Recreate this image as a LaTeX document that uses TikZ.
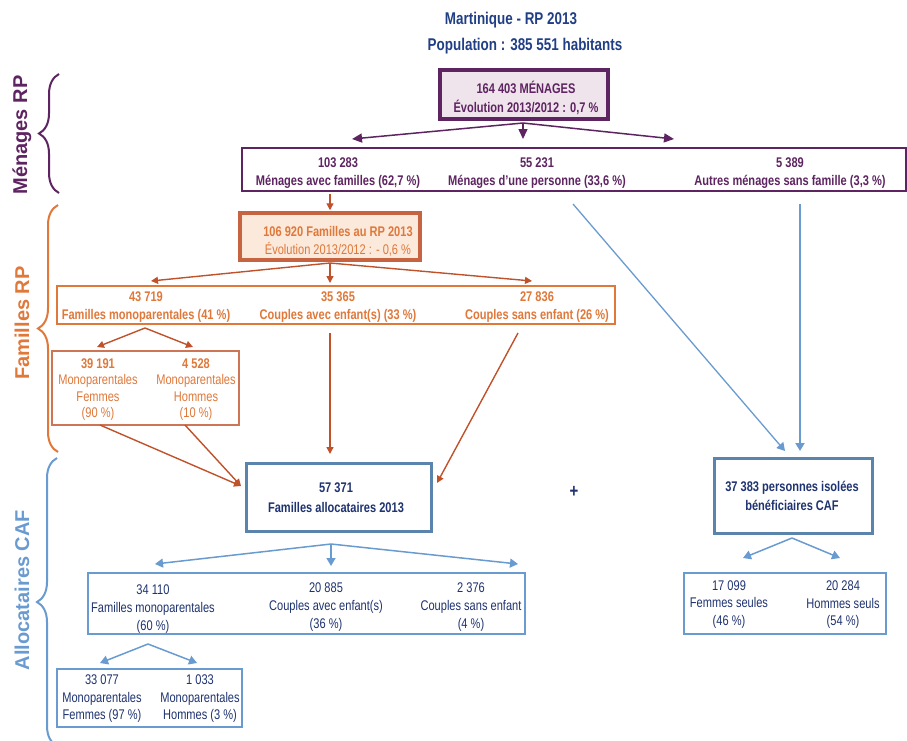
\documentclass[tikz,border=0pt]{standalone}
\usepackage{fontspec}
\setmainfont{Liberation Sans}[FakeStretch=0.79]
\newfontfamily\sidefont{Liberation Sans}
\usetikzlibrary{positioning,calc,arrows.meta,decorations.pathreplacing}

\definecolor{menpurple}{HTML}{5E2461}
\definecolor{menfill}{HTML}{EFE4EC}
\definecolor{famorange}{HTML}{E0783A}
\definecolor{famdark}{HTML}{C0522B}
\definecolor{famfill}{HTML}{FBE9DB}
\definecolor{cafblue}{HTML}{6A9BD0}
\definecolor{cafframe}{HTML}{5B84AD}
\definecolor{cafnavy}{HTML}{1F3370}
\definecolor{titleblue}{HTML}{213F85}

\begin{document}
\begin{tikzpicture}[x=1pt,y=-1pt]
    \tikzstyle{every node}=[inner sep=0,align=center,font=\fontsize{14}{18}\selectfont]
    \tikzstyle{ttl}=[text=titleblue,font=\bfseries\fontsize{17}{18}\selectfont]
    \tikzstyle{sidelab}=[rotate=90,font=\sidefont\bfseries\fontsize{20}{20}\selectfont]
    \tikzstyle{bigbox}=[draw,line width=3.5]
    \tikzstyle{rowbox}=[draw,line width=1.6,fill=white]
    \tikzstyle{mentxt}=[text=menpurple,font=\bfseries\fontsize{14}{18}\selectfont]
    \tikzstyle{famtxt}=[text=famorange,font=\bfseries\fontsize{14}{18}\selectfont]
    \tikzstyle{caftxt}=[text=cafnavy]
    \tikzstyle{purarr}=[menpurple,line width=1.5,-{Triangle[length=10,width=9]}]
    \tikzstyle{famarr}=[famdark,line width=1.4,-{Triangle[length=7,width=7]}]
    \tikzstyle{cafarr}=[cafblue,line width=1.5,-{Triangle[length=8,width=9]}]
    \tikzstyle{brc}=[line width=2,decorate,decoration={brace,amplitude=20}]
    \useasboundingbox (0,0) rectangle (907,740);

    % titre
    \node[ttl] (title1) at (511,20) {Martinique - RP 2013};
    \node[ttl] (title2) at (525,46) {Population : 385 551 habitants};

    % menages RP
    \node[bigbox,draw=menpurple,fill=menfill,minimum width=168,minimum height=49] (men) at (524,94.5) {};
    \node[mentxt,font=\bfseries\fontsize{14}{19}\selectfont] (men-t) at (526,98) {164 403 MÉNAGES\\Évolution 2013/2012 : 0,7 \%};
    \node[rowbox,draw=menpurple,minimum width=664,minimum height=43] (menrow) at (574,169.5) {};
    \node[mentxt] (menA) at (338,173) {103 283\\Ménages avec familles (62,7 \%)};
    \node[mentxt] (menB) at (537,173) {55 231\\Ménages d'une personne (33,6 \%)};
    \node[mentxt] (menC) at (790,173) {5 389\\Autres ménages sans famille (3,3 \%)};

    \coordinate (menSplit) at (523,123);
    \coordinate (menToA) at (352,139);
    \coordinate (menToB) at (523,139);
    \coordinate (menToC) at (674,139);
    \foreach \t in {menToA,menToB,menToC}
        \draw[purarr] (menSplit) -- (\t);

    % familles RP
    \node[bigbox,draw=famdark!90,fill=famfill,minimum width=180,minimum height=47] (fam) at (330,236.5) {};
    \node[text=famorange] (fam-t) at (338,241) {\textbf{106 920 Familles au RP 2013}\\Évolution 2013/2012 : - 0,6 \%};
    \coordinate (menrowOut) at (330,194);
    \draw[famarr,shorten >=1] (menrowOut) -- (fam.north);

    \node[rowbox,draw=famorange,minimum width=558,minimum height=38] (famrow) at (336,305) {};
    \node[famtxt] (famA) at (146,307.5) {43 719\\Familles monoparentales (41 \%)};
    \node[famtxt] (famB) at (338,307.5) {35 365\\Couples avec enfant(s) (33 \%)};
    \node[famtxt] (famC) at (537,307.5) {27 836\\Couples sans enfant (26 \%)};

    \coordinate (famSplit) at (330,263);
    \coordinate (famToA) at (151,281);
    \coordinate (famToB) at (330,283);
    \coordinate (famToC) at (532,281);
    \foreach \t in {famToA,famToB,famToC}
        \draw[famarr] (famSplit) -- (\t);

    \node[rowbox,draw=famdark!80,minimum width=187,minimum height=74] (monorow) at (145.5,388) {};
    \node[text=famorange,font=\fontsize{14}{16.3}\selectfont] (monoF) at (98,389.5) {\textbf{39 191}\\Monoparentales\\Femmes\\(90 \%)};
    \node[text=famorange,font=\fontsize{14}{16.3}\selectfont] (monoH) at (196,389.5) {\textbf{4 528}\\Monoparentales\\Hommes\\(10 \%)};

    \coordinate (monoSplit) at (145,328);
    \coordinate (monoToF) at (97,347);
    \coordinate (monoToH) at (193,347);
    \foreach \t in {monoToF,monoToH}
        \draw[famarr] (monoSplit) -- (\t);

    % allocataires CAF
    \node[bigbox,line width=3,draw=cafframe,fill=white,minimum width=185,minimum height=68] (caf) at (338.5,497) {};
    \node[text=cafnavy,font=\bfseries\fontsize{14}{20}\selectfont] (caf-t) at (336,497.5) {57 371\\Familles allocataires 2013};
    \node[text=cafnavy,font=\bfseries\fontsize{19}{19}\selectfont] (plus) at (574,492) {+};
    \node[bigbox,line width=3,draw=cafframe,fill=white,minimum width=158,minimum height=75] (iso) at (793,495.5) {};
    \node[text=cafnavy,font=\bfseries\fontsize{14}{19}\selectfont] (iso-t) at (792,496) {37 383 personnes isolées\\bénéficiaires CAF};

    \coordinate (monoOutF) at (100,425);
    \coordinate (monoOutH) at (185,425);
    \coordinate (cafInL) at (241,486);
    \coordinate (famOutB) at (330,333);
    \coordinate (cafInB) at (330,454);
    \coordinate (famOutC) at (518,333);
    \coordinate (cafInR) at (437,483);
    \draw[famarr] (monoOutF) -- (cafInL);
    \draw[famarr] (monoOutH) -- (cafInL);
    \draw[famarr] (famOutB) -- (cafInB);
    \draw[famarr] (famOutC) -- (cafInR);

    \coordinate (menOutB) at (573,204);
    \coordinate (menOutC) at (800,204);
    \coordinate (isoInL) at (785,451);
    \coordinate (isoInR) at (800,451);
    \draw[cafarr,line width=1.3] (menOutB) -- (isoInL);
    \draw[cafarr,line width=1.8] (menOutC) -- (isoInR);

    \node[rowbox,draw=cafblue,minimum width=437,minimum height=61] (cafrow) at (306.5,603.5) {};
    \node[caftxt] (cafA) at (153,609) {34 110\\Familles monoparentales\\(60 \%)};
    \node[caftxt] (cafB) at (326,607.5) {20 885\\Couples avec enfant(s)\\(36 \%)};
    \node[caftxt] (cafC) at (471,607.5) {2 376\\Couples sans enfant\\(4 \%)};

    \coordinate (cafSplit) at (331,544);
    \coordinate (cafToA) at (155,564);
    \coordinate (cafToB) at (331,566);
    \coordinate (cafToC) at (518,564);
    \foreach \t in {cafToA,cafToB,cafToC}
        \draw[cafarr] (cafSplit) -- (\t);

    \node[rowbox,draw=cafblue,minimum width=185,minimum height=58] (cafmono) at (149.5,698) {};
    \node[caftxt,font=\fontsize{14}{17.5}\selectfont] (cafMF) at (102,699) {33 077\\Monoparentales\\Femmes (97 \%)};
    \node[caftxt,font=\fontsize{14}{17.5}\selectfont] (cafMH) at (200,699) {1 033\\Monoparentales\\Hommes (3 \%)};

    \coordinate (cafMonoSplit) at (148,644);
    \coordinate (cafToMF) at (100,663);
    \coordinate (cafToMH) at (197,663);
    \foreach \t in {cafToMF,cafToMH}
        \draw[cafarr] (cafMonoSplit) -- (\t);

    \node[rowbox,draw=cafblue,minimum width=202,minimum height=61] (isorow) at (785,603.5) {};
    \node[caftxt,font=\fontsize{14}{17.5}\selectfont] (isoF) at (729,604.5) {17 099\\Femmes seules\\(46 \%)};
    \node[caftxt,font=\fontsize{14}{17.5}\selectfont] (isoH) at (843,605) {20 284\\Hommes seuls\\(54 \%)};

    \coordinate (isoSplit) at (792,538);
    \coordinate (isoToF) at (743,558);
    \coordinate (isoToH) at (840,558);
    \foreach \t in {isoToF,isoToH}
        \draw[cafarr] (isoSplit) -- (\t);

    % accolades
    \draw[brc,menpurple] (59,193) -- (59,74);
    \draw[brc,famorange] (58,452) -- (58,205);
    \draw[brc,cafblue] (57,746) -- (57,458);
    \node[sidelab,text=menpurple] (labMen) at (22,135) {Ménages RP};
    \node[sidelab,text=famorange] (labFam) at (22,323) {Familles RP};
    \node[sidelab,text=cafblue] (labCaf) at (22,590) {Allocataires CAF};
\end{tikzpicture}
\end{document}
